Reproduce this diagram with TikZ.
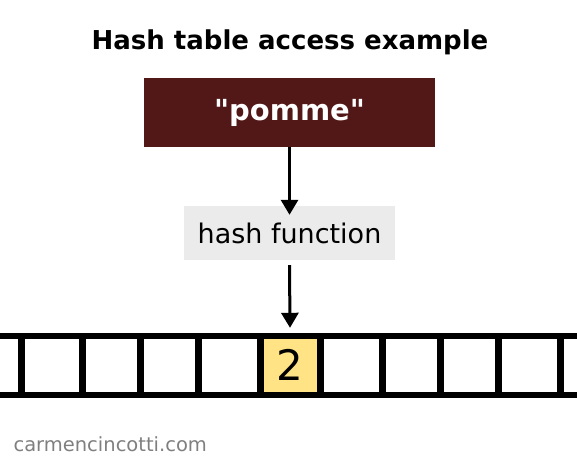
\documentclass[tikz,border=0pt]{standalone}
\usepackage{fontspec}
\setmainfont{DejaVu Sans}[Ligatures=TeXOff]
\usetikzlibrary{arrows.meta}

\definecolor{keyred}{HTML}{521717}
\definecolor{fngray}{HTML}{EBEBEB}
\definecolor{slotyellow}{HTML}{FFE385}
\definecolor{sitegray}{HTML}{7F7F7F}

\begin{document}
\begin{tikzpicture}[x=1pt,y=-1pt]

\tikzset{box/.style = {shape=rectangle, inner sep=0pt, font=\fontsize{27}{30}\selectfont}}
\tikzset{edge/.style = {-{Triangle[length=15pt,width=17pt]}, line width=3pt}}
\tikzset{wall/.style = {line width=7pt}}

\useasboundingbox (0,0) rectangle (577,462);

%title
\node (title) at (290,42) {\fontsize{26}{30}\selectfont\bfseries Hash table access example};

%key and hash function
\node[box, fill=keyred, text=white, minimum width=291pt, minimum height=69pt, font=\fontsize{29}{32}\selectfont] (key) at (289.5,112.5) {\bfseries "pomme"};
\node[box, fill=fngray, minimum width=211pt, minimum height=54pt] (hashfn) at (289.5,233) {hash function};

%table slot
\node[box, fill=slotyellow, minimum width=60pt, minimum height=59.5pt, font=\fontsize{42}{46}\selectfont] (slot) at (290,365.25) {2};

%array walls
\draw[line width=6pt] (0,335.5) -- (577,335.5);
\draw[line width=6pt] (0,395) -- (577,395);
\foreach \x in {21,82,140,198,260,320,382,440,498,560}
  \draw[wall] (\x,335.5) -- (\x,395);

%arrows
\draw[edge] (key.south) -- ([yshift=-9pt]hashfn.north);
\draw[edge] ([yshift=-5pt]hashfn.south) -- ([yshift=7.5pt]slot.north);

%footer
\node[anchor=west, text=sitegray] (site) at (10,444) {\fontsize{19.5}{22}\selectfont carmencincotti.com};

\end{tikzpicture}
\end{document}
